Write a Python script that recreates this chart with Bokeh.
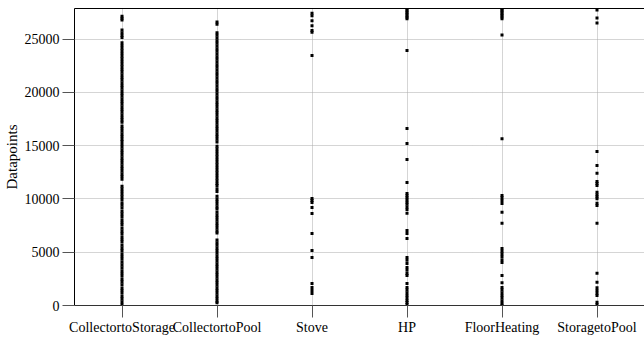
from bokeh.plotting import figure
from bokeh.models import Range1d, FactorRange, LinearAxis, FixedTicker, ColumnDataSource
from bokeh.embed import file_html
from bokeh.resources import INLINE

categories = ["CollectortoStorage", "CollectortoPool", "Stove", "HP", "FloorHeating", "StoragetoPool"]
y_ticks = [0, 5000, 10000, 15000, 20000, 25000]
y_max = 27870

collector_to_storage = [
    27150, 26950, 26800,
    25850, 25600, 25350, 25150,
    24650, 24400, 24150, 23900, 23650, 23400, 23150, 22900, 22650, 22400, 22150,
    21900, 21650, 21400, 21150, 20900, 20650, 20400, 20150, 19900, 19650, 19400,
    19150, 18900, 18650, 18400, 18150, 17900, 17650, 17400, 17200,
    16850, 16600, 16350, 16100, 15850, 15600, 15400,
    15100, 14850, 14600, 14350, 14100, 13850, 13600, 13350, 13100, 12850, 12600,
    12350, 12100, 11850,
    11200, 10950, 10700, 10450, 10200, 9950, 9650, 9400, 9150, 8850, 8600, 8350,
    8050, 7800, 7550, 7250, 7000, 6750, 6450, 6200, 5950, 5650, 5400, 5150, 4850,
    4600, 4350, 4050, 3800, 3550, 3250, 3000, 2750, 2450, 2200, 1950, 1650, 1400,
    1150, 850, 600, 350, 100,
]
collector_to_pool = [
    26600, 26400,
    25600, 25350, 25100, 24850, 24600, 24350, 24100, 23850, 23600, 23350, 23100,
    22850, 22600, 22350, 22100, 21850, 21600, 21350, 21100, 20850, 20600, 20350,
    20100, 19850, 19600, 19350, 19100, 18850, 18600, 18350, 18100, 17850, 17600,
    17350, 17100, 16850, 16600, 16350, 16100, 15850, 15600, 15350,
    14950, 14700, 14450, 14200, 13950, 13700, 13450, 13200, 12950, 12700, 12450,
    12200, 11950, 11700, 11450, 11250, 10950, 10700,
    10250, 10000, 9750, 9500, 9250, 9050, 8750, 8500, 8250, 8000, 7750, 7500,
    7250, 7000, 6800,
    6150, 5900, 5650, 5400, 5150, 4900, 4650, 4400, 4150, 3900, 3650, 3400, 3150,
    2900, 2650, 2400, 2150, 1900, 1650, 1400, 1150, 900, 650, 400, 250,
]
stove = [27420, 27200, 26730, 26260, 25800, 25640, 23450, 10040, 9850, 9660, 9190,
         8630, 6750, 5160, 4500, 2060, 1690, 1410, 1130]
hp = [27800, 27650, 27500, 27350, 27200, 27050, 26900, 23920, 16600, 15200, 13690,
      11540, 10500, 10300, 10100, 9900, 9700, 9500, 9250, 9000, 8650, 7035, 6750,
      6280, 4500, 4250, 3950, 3560, 3300, 3000, 2810, 2060, 1690, 1450, 1200, 950,
      700, 470, 280, 90]
floor_heating = [27830, 27680, 27530, 27380, 27230, 27080, 26900, 25390, 15640,
                 10320, 10100, 9850, 9570, 8760, 7720, 5350, 5100, 4850, 4600,
                 4300, 4030, 2810, 2130, 1690, 1450, 1200, 950, 700, 450, 200, 30]
storage_to_pool = [27740, 26990, 26510, 14450, 13130, 12410, 11630, 11450, 11260,
                   10630, 10400, 10200, 10010, 9600, 9380, 7720, 3030, 2190, 1660,
                   1400, 1150, 940, 310, 100]

series = [collector_to_storage, collector_to_pool, stove, hp, floor_heating, storage_to_pool]
xs, ys = [], []
for cat, vals in zip(categories, series):
    xs += [cat] * len(vals)
    ys += vals
source = ColumnDataSource(dict(x=xs, y=ys))

FONT = "Liberation Serif"

p = figure(width=644, height=338, x_range=FactorRange(*categories),
           y_range=Range1d(0, y_max), output_backend="svg", toolbar_location=None,
           min_border_left=72, min_border_right=0, min_border_top=8, min_border_bottom=33)
p.background_fill_color = "white"
p.border_fill_color = "white"
p.outline_line_color = None

p.scatter("x", "y", source=source, marker="square", size=3,
          fill_color="black", line_color=None)

bottom = p.below[0]
left = p.left[0]
left.ticker = FixedTicker(ticks=y_ticks)
left.axis_label = "Datapoints"
for ax in (bottom, left):
    ax.axis_line_color = "black"
    ax.major_tick_line_color = "#555555"
    ax.major_tick_out = 12
    ax.major_tick_in = 0
    ax.minor_tick_line_color = None
    ax.major_label_text_font = FONT
    ax.major_label_text_font_size = "14px"
    ax.major_label_text_color = "black"
bottom.axis_line_color = "#333333"
left.major_label_standoff = 3
bottom.major_label_standoff = 2
left.axis_label_text_font = FONT
left.axis_label_text_font_size = "15px"
left.axis_label_text_font_style = "normal"
left.axis_label_text_color = "black"
left.axis_label_standoff = 2

# top line
top = LinearAxis(ticker=FixedTicker(ticks=[]), axis_line_color="black",
                 major_tick_line_color=None, minor_tick_line_color=None,
                 major_label_text_font_size="0px", major_label_standoff=0)
p.add_layout(top, "above")

for g in (p.xgrid[0], p.ygrid[0]):
    g.grid_line_color = "#aaaaaa"
    g.grid_line_dash = "1 1"
    g.grid_line_width = 1

open("out.html", "w").write(file_html(p, INLINE))
